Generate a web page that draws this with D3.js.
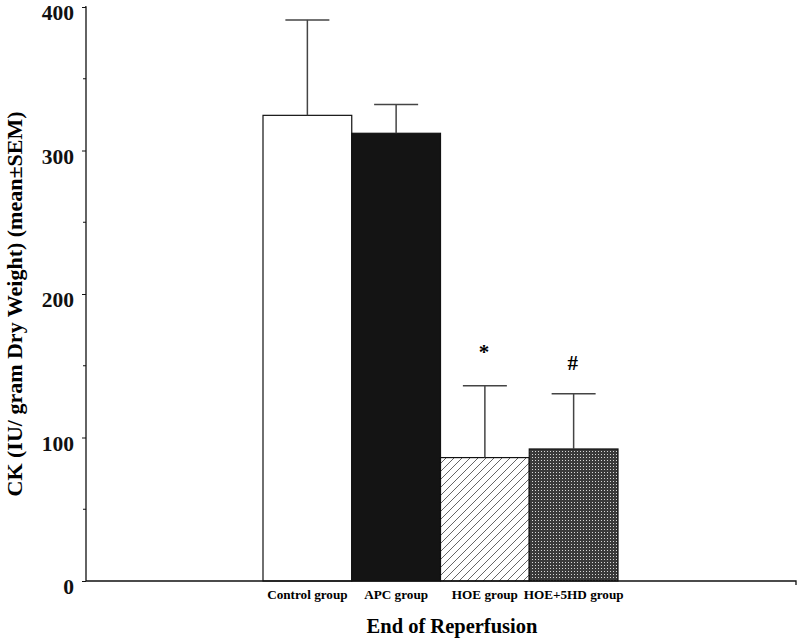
<!DOCTYPE html>
<html><head><meta charset="utf-8">
<script src="https://cdn.jsdelivr.net/npm/d3@7"></script>
<style>body{margin:0;background:#fff}svg{display:block}text{font-family:"Liberation Serif","Times New Roman",serif;font-weight:bold}</style>
</head><body>
<script>
const categories = ["Control group","APC group","HOE group","HOE+5HD group"];
const means = [324.5, 312, 86, 92];
const sems = [66.5, 20, 50, 38.5];
const marks = ["", "", "*", "#"];
const yTicks = [0,100,200,300,400];
const fills = ["#ffffff","#141414","url(#hatch)","url(#grid)"];

const W=800,H=642;
const svg=d3.select("body").append("svg").attr("width",W).attr("height",H);
const defs=svg.append("defs");
const h=defs.append("pattern").attr("id","hatch").attr("patternUnits","userSpaceOnUse").attr("width",8).attr("height",8);
h.append("rect").attr("width",8).attr("height",8).attr("fill","#fff");
h.append("path").attr("d","M-2,2 L2,-2 M0,8 L8,0 M6,10 L10,6").attr("stroke","#666").attr("stroke-width",1);
const g=defs.append("pattern").attr("id","grid").attr("patternUnits","userSpaceOnUse").attr("width",3).attr("height",3);
g.append("rect").attr("width",3).attr("height",3).attr("fill","#3a3a3a");
g.append("rect").attr("x",1).attr("y",1).attr("width",1).attr("height",1).attr("fill","#d8d8d8");

const x0=86, xEnd=796, yTop=7, yBot=581;
const y=d3.scaleLinear().domain([0,400]).range([yBot,yTop]);
const x=d3.scaleBand().domain(categories).range([263,618]).padding(0);

// bars
svg.selectAll("rect.bar").data(categories).enter().append("rect")
 .attr("x",d=>x(d)).attr("width",x.bandwidth())
 .attr("y",(d,i)=>y(means[i])).attr("height",(d,i)=>yBot-y(means[i]))
 .attr("fill",(d,i)=>fills[i]).attr("stroke","#111").attr("stroke-width",1.2);

// error bars
const cap=22;
categories.forEach((c,i)=>{
  const cx=x(c)+x.bandwidth()/2;
  svg.append("line").attr("x1",cx).attr("x2",cx).attr("y1",y(means[i])).attr("y2",y(means[i]+sems[i])).attr("stroke","#444").attr("stroke-width",1.5);
  svg.append("line").attr("x1",cx-cap).attr("x2",cx+cap).attr("y1",y(means[i]+sems[i])).attr("y2",y(means[i]+sems[i])).attr("stroke","#444").attr("stroke-width",1.5);
  if(marks[i]) svg.append("text").attr("x",cx-1).attr("y",y(means[i]+sems[i])-(i===3?24:27)).attr("text-anchor","middle").attr("font-size",21).text(marks[i]);
  svg.append("text").attr("x",cx).attr("y",599).attr("text-anchor","middle").attr("font-size",13.2).text(c);
});

// y axis
const ax=svg.append("g").attr("transform",`translate(${x0},0)`)
 .call(d3.axisLeft(y).tickValues(yTicks).tickSize(4).tickPadding(8).tickFormat(d3.format("d")));
ax.select(".domain").attr("d",`M-1,${yTop}H0V${yBot}`).attr("stroke","#111").attr("stroke-width",1.3);
ax.selectAll("text").attr("font-size",21.5).attr("fill","#111").attr("y",5).attr("dy","0.35em");
ax.selectAll("line").attr("stroke","#111");
// minor ticks
svg.append("g").selectAll("line").data([50,150,250,350]).enter().append("line")
 .attr("x1",x0-3).attr("x2",x0).attr("y1",d=>y(d)).attr("y2",d=>y(d)).attr("stroke","#111");

// x axis line
svg.append("path").attr("d",`M${x0},${yBot}H${xEnd}V${yBot+4}`).attr("fill","none").attr("stroke","#111").attr("stroke-width",1.3);

svg.append("text").attr("x",452).attr("y",633).attr("text-anchor","middle").attr("font-size",20.5).text("End of Reperfusion");
svg.append("text").attr("transform","translate(22,304) rotate(-90)").attr("text-anchor","middle").attr("font-size",22).text("CK (IU/ gram Dry Weight) (mean±SEM)");
</script>
</body></html>
